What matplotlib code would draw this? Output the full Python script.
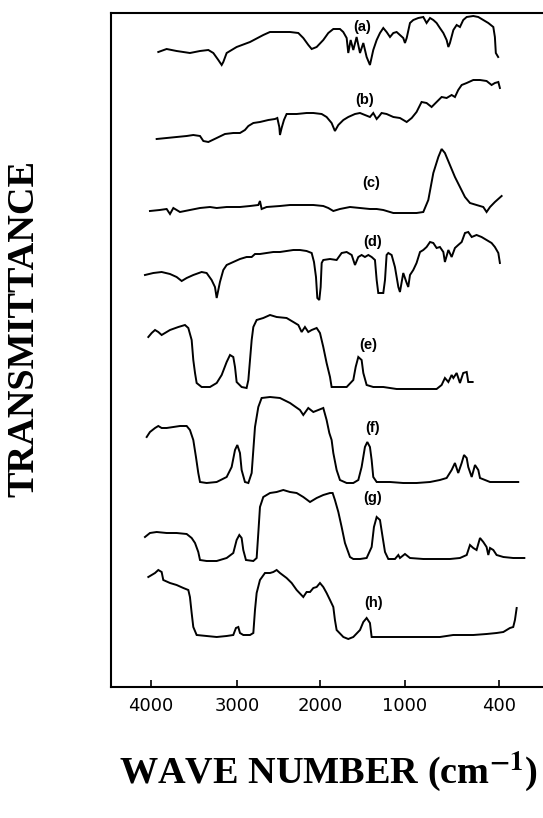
"""IR spectra (a)-(h), stacked, transmittance vs wave number."""
import matplotlib
matplotlib.use("Agg")
import matplotlib.pyplot as plt
import numpy as np

# --- data (wave number in cm-1, transmittance in arbitrary stacked units)
A_WN = [3915, 3818, 3702, 3547, 3430, 3333, 3275, 3217, 3178, 3159, 3120, 3004, 2843, 2683, 2603,
        2482, 2361, 2261, 2201, 2140, 2100, 2040, 1961, 1902, 1843, 1765, 1726, 1686, 1667, 1639,
        1608, 1569, 1529, 1490, 1451, 1412, 1373, 1333, 1294, 1255, 1216, 1176, 1137, 1098, 1059,
        1020, 1000, 989, 968, 947, 915, 883, 862, 840, 819, 798, 777, 755, 734, 723,
        713, 691, 670, 649, 628, 606, 564, 532, 500, 468, 436, 426, 420, 405]
A_T = [635, 638, 636, 634, 636, 637, 634, 627, 622, 625, 634, 640, 645, 652, 655,
       655, 655, 654, 649, 642, 638, 640, 647, 654, 658, 658, 655, 649, 634, 647,
       637, 650, 634, 644, 630, 622, 637, 647, 654, 659, 655, 650, 654, 655, 652,
       649, 644, 649, 664, 667, 669, 670, 664, 669, 667, 664, 659, 654, 647, 640,
       644, 657, 662, 660, 667, 670, 671, 670, 667, 664, 660, 650, 634, 630]

B_WN = [3934, 3818, 3702, 3585, 3508, 3430, 3391, 3333, 3236, 3140, 3043, 2964, 2904, 2863, 2803,
        2723, 2622, 2542, 2514, 2490, 2482, 2462, 2434, 2402, 2281, 2161, 2080, 1980, 1922, 1863,
        1824, 1784, 1725, 1667, 1588, 1529, 1471, 1412, 1373, 1333, 1302, 1275, 1216, 1137, 1059,
        989, 957, 926, 894, 862, 830, 798, 766, 734, 702, 681, 660, 638, 606, 564,
        521, 479, 447, 426, 404, 394]
B_T = [548, 549, 550, 551, 552, 551, 546, 545, 549, 553, 554, 554, 557, 561, 564,
       565, 567, 568, 569, 560, 552, 559, 567, 573, 573, 574, 574, 573, 570, 564,
       556, 562, 567, 570, 573, 574, 572, 570, 574, 568, 571, 574, 573, 570, 569,
       565, 569, 575, 585, 584, 580, 585, 590, 589, 592, 590, 597, 602, 604, 607,
       607, 606, 602, 604, 605, 599]

C_WN = [4012, 3899, 3818, 3779, 3740, 3663, 3547, 3430, 3314, 3236, 3120, 2964, 2843, 2743, 2723,
        2703, 2643, 2482, 2361, 2241, 2080, 1961, 1902, 1843, 1765, 1647, 1529, 1412, 1333, 1255,
        1137, 1020, 926, 883, 851, 819, 787, 766, 745, 713, 681, 649, 617, 585, 543,
        500, 479, 457, 426, 383]
C_T = [476, 477, 478, 473, 479, 475, 477, 479, 480, 479, 480, 480, 481, 482, 486,
       478, 480, 481, 482, 482, 482, 481, 479, 476, 478, 480, 479, 478, 478, 477,
       474, 474, 474, 475, 487, 514, 530, 538, 534, 522, 510, 500, 490, 484, 482,
       480, 475, 480, 485, 491]

D_WN = [4070, 3973, 3876, 3779, 3702, 3643, 3585, 3508, 3411, 3353, 3295, 3256, 3236, 3217, 3198,
        3159, 3120, 3043, 2964, 2884, 2823, 2783, 2723, 2643, 2562, 2482, 2402, 2321, 2241, 2161,
        2100, 2072, 2048, 2032, 2008, 1992, 1980, 1961, 1882, 1804, 1745, 1686, 1627, 1588, 1549,
        1510, 1471, 1431, 1392, 1353, 1333, 1314, 1255, 1235, 1216, 1196, 1157, 1118, 1078, 1059,
        1020, 989, 979, 968, 947, 926, 904, 883, 862, 840, 819, 798, 777, 755, 745,
        723, 702, 681, 660, 638, 617, 596, 574, 543, 511, 479, 447, 426, 404, 394]
D_T = [412, 414, 415, 413, 410, 406, 409, 412, 415, 414, 407, 400, 389, 397, 405,
       417, 422, 425, 428, 430, 430, 433, 433, 434, 435, 435, 436, 437, 437, 436,
       434, 425, 410, 389, 387, 400, 424, 427, 428, 427, 434, 435, 432, 422, 430,
       432, 430, 432, 430, 427, 407, 394, 394, 407, 432, 434, 432, 420, 400, 395,
       414, 404, 400, 412, 417, 424, 435, 437, 440, 445, 444, 439, 440, 435, 425,
       437, 430, 439, 442, 445, 454, 455, 450, 452, 450, 447, 444, 440, 434, 424]

E_WN = [4031, 3992, 3953, 3915, 3876, 3779, 3682, 3605, 3566, 3527, 3508, 3488, 3469, 3411, 3314,
        3236, 3178, 3120, 3081, 3043, 3023, 3004, 2944, 2884, 2863, 2843, 2823, 2803, 2763, 2683,
        2602, 2522, 2402, 2321, 2261, 2221, 2181, 2141, 2100, 2040, 2000, 1961, 1922, 1882, 1863,
        1804, 1686, 1608, 1580, 1549, 1510, 1490, 1451, 1373, 1255, 1098, 968, 883, 798, 766,
        745, 723, 702, 691, 670, 649, 628, 606, 596, 568]
E_T = [350, 354, 357, 355, 352, 357, 360, 362, 359, 347, 327, 314, 304, 300, 300,
       304, 312, 325, 332, 330, 320, 305, 300, 299, 307, 327, 347, 360, 367, 369,
       372, 370, 369, 365, 362, 355, 360, 355, 357, 359, 354, 340, 324, 310, 300,
       300, 300, 307, 320, 330, 327, 314, 302, 300, 300, 298, 298, 298, 298, 302,
       309, 305, 312, 309, 314, 304, 314, 315, 305, 305]

F_WN = [4050, 4012, 3953, 3915, 3876, 3818, 3740, 3663, 3585, 3547, 3508, 3477, 3450, 3430, 3353,
        3236, 3120, 3062, 3023, 2996, 2964, 2944, 2904, 2863, 2823, 2803, 2783, 2743, 2703, 2602,
        2482, 2361, 2241, 2201, 2141, 2080, 2020, 1961, 1922, 1890, 1863, 1843, 1804, 1765, 1686,
        1608, 1549, 1510, 1471, 1443, 1412, 1392, 1373, 1333, 1176, 1020, 926, 840, 777, 734,
        702, 681, 660, 638, 623, 606, 596, 574, 553, 532, 521, 457, 372, 277]
F_T = [250, 255, 259, 261, 259, 259, 260, 261, 261, 257, 247, 230, 214, 205, 204,
       205, 210, 220, 237, 242, 234, 217, 205, 204, 214, 237, 260, 280, 289, 290,
       289, 284, 277, 272, 279, 275, 277, 279, 267, 254, 247, 234, 217, 207, 204,
       204, 207, 220, 240, 245, 240, 227, 210, 205, 205, 204, 204, 205, 207, 209,
       217, 224, 214, 224, 232, 229, 220, 210, 222, 217, 209, 205, 205, 205]

G_WN = [4070, 4012, 3934, 3818, 3702, 3585, 3527, 3488, 3450, 3430, 3353, 3236, 3120, 3043, 3004,
        2972, 2944, 2924, 2892, 2803, 2763, 2743, 2723, 2683, 2602, 2522, 2442, 2361, 2281, 2201,
        2120, 2040, 1961, 1882, 1851, 1824, 1784, 1745, 1706, 1647, 1608, 1529, 1451, 1392, 1365,
        1333, 1294, 1263, 1235, 1196, 1118, 1078, 1059, 1000, 968, 883, 798, 713, 649, 606,
        585, 564, 543, 521, 500, 479, 468, 457, 436, 415, 372, 309, 238]
G_T = [150, 154, 155, 154, 154, 153, 149, 144, 135, 127, 126, 126, 129, 134, 147,
       152, 149, 137, 127, 126, 129, 154, 180, 190, 194, 195, 197, 195, 194, 190,
       185, 189, 192, 194, 194, 187, 175, 160, 144, 130, 128, 128, 129, 140, 160,
       170, 167, 150, 135, 128, 128, 132, 129, 133, 129, 128, 128, 128, 129, 132,
       142, 139, 137, 149, 145, 140, 132, 139, 137, 132, 130, 129, 129]

H_WN = [4031, 3992, 3953, 3915, 3876, 3857, 3779, 3702, 3624, 3566, 3547, 3527, 3508, 3469, 3353,
        3236, 3120, 3043, 3012, 2984, 2964, 2924, 2843, 2803, 2783, 2763, 2723, 2663, 2602, 2562,
        2522, 2482, 2402, 2341, 2281, 2201, 2161, 2120, 2080, 2040, 2000, 1961, 1922, 1882, 1843,
        1824, 1804, 1725, 1667, 1608, 1529, 1490, 1451, 1412, 1392, 1294, 1137, 989, 883, 777,
        692, 649, 564, 479, 415, 372, 330, 309, 298, 287]
H_T = [110, 112, 114, 117, 115, 107, 104, 102, 99, 97, 90, 74, 60, 52, 51,
       50, 51, 52, 59, 60, 54, 52, 52, 54, 77, 94, 107, 114, 114, 115,
       117, 114, 109, 104, 97, 90, 95, 95, 99, 100, 104, 100, 94, 87, 80,
       67, 57, 50, 48, 50, 57, 65, 69, 64, 50, 50, 50, 50, 50, 50,
       52, 52, 52, 53, 54, 55, 59, 60, 67, 79]

LABELS = ["(a)", "(b)", "(c)", "(d)", "(e)", "(f)", "(g)", "(h)"]
LABEL_WN = [1498, 1471, 1392, 1381, 1432, 1381, 1381, 1373]
LABEL_T = [660, 587, 504, 445, 342, 259, 189, 84]

TICKS = [4000, 3000, 2000, 1000, 400]

# the original axis is split: 1000-400 cm-1 is drawn ~1.85x wider than above 1000
SCALE_WN = [0, 400, 1000, 2000, 3000, 4000, 5000]
SCALE_POS = [38.3, 101, 195, 280, 363, 449, 535]


def fwd(w):
    return np.interp(w, SCALE_WN, SCALE_POS)


def inv(p):
    return np.interp(p, SCALE_POS, SCALE_WN)


def main():
    plt.rcParams["mathtext.fontset"] = "stix"
    fig = plt.figure(figsize=(5.43, 8.18), dpi=100)
    ax = fig.add_axes([111 / 543, 131 / 818, 432 / 543, 674 / 818])

    traces = [(A_WN, A_T), (B_WN, B_T), (C_WN, C_T), (D_WN, D_T),
              (E_WN, E_T), (F_WN, F_T), (G_WN, G_T), (H_WN, H_T)]
    for wn, t in traces:
        ax.plot(wn, t, color="black", linewidth=1.4, solid_joinstyle="miter")

    for lab, w, t in zip(LABELS, LABEL_WN, LABEL_T):
        ax.text(w, t, lab, ha="center", va="center", fontsize=10.5,
                fontweight="bold", family="Liberation Sans")

    ax.set_xscale("function", functions=(fwd, inv))
    ax.set_xlim(4465, 119)
    ax.set_ylim(0, 674)
    ax.set_xticks(TICKS)
    ax.set_xticklabels([str(t) for t in TICKS], family="DejaVu Sans", fontsize=13)
    ax.xaxis.set_minor_locator(matplotlib.ticker.NullLocator())
    ax.set_yticks([])
    ax.tick_params(axis="x", direction="in", length=5, width=1.2, pad=7)
    ax.spines["right"].set_visible(False)
    for s in ("left", "top", "bottom"):
        ax.spines[s].set_linewidth(1.5)

    fig.text(328 / 543, 1 - 772 / 818, r"WAVE NUMBER (cm$^{\mathbf{-1}}$)",
             ha="center", va="center", fontsize=27.5, fontweight="bold",
             family="Liberation Serif")
    fig.text(24 / 543, 1 - 328 / 818, "TRANSMITTANCE", rotation=90,
             ha="center", va="center", fontsize=27.5, fontweight="bold",
             family="Liberation Serif")

    fig.savefig("out.png", dpi=100)
    plt.close(fig)


if __name__ == "__main__":
    main()
